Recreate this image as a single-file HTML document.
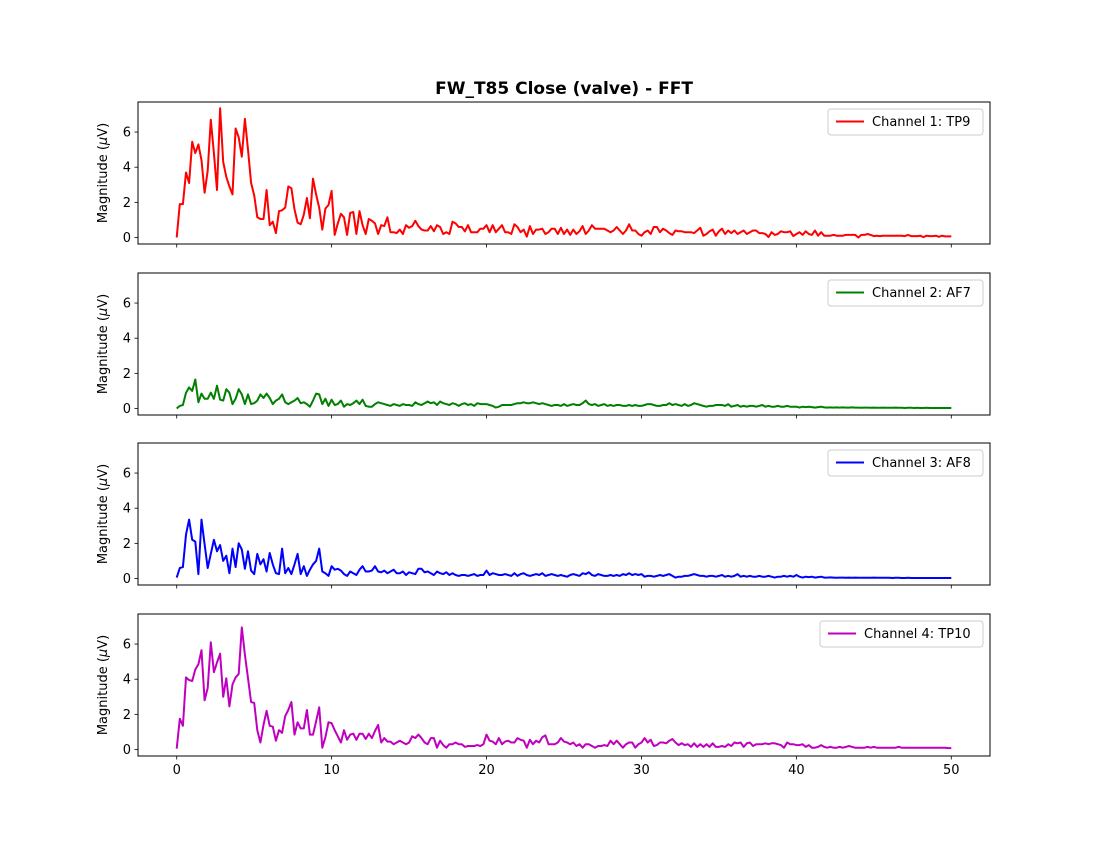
<!DOCTYPE html>
<html><head><meta charset="utf-8"><style>
body{margin:0;background:#fff;}
svg{display:block;font-family:"DejaVu Sans","Liberation Sans",sans-serif;}
</style></head><body>
<svg id="chart" width="1100" height="850" xmlns="http://www.w3.org/2000/svg">
<text x="564" y="94" text-anchor="middle" font-size="17" font-weight="bold">FW_T85 Close (valve) - FFT</text>
</svg>
<script>
const xTicks=[0,10,20,30,40,50];
const yTicks=[0,2,4,6];
const freqStep=0.2;
const labels=["Channel 1: TP9","Channel 2: AF7","Channel 3: AF8","Channel 4: TP10"];
const colors=["#ff0000","#008000","#0000ff","#bf00bf"];
const ch1=[0,1.9,1.9,3.7,3.1,5.45,4.8,5.3,4.4,2.55,3.8,6.7,4.8,2.7,7.35,4.3,3.45,2.9,2.45,6.2,5.7,4.6,6.75,5.0,3.1,2.4,1.15,1.05,1.05,2.7,0.7,0.9,0.25,1.5,1.55,1.7,2.9,2.8,1.6,0.85,0.75,1.3,2.25,1.1,3.35,2.45,1.7,0.45,1.65,1.85,2.65,0.15,0.8,1.35,1.15,0.15,1.4,1.45,0.2,1.5,0.7,0.2,1.05,
0.95,0.8,0.2,0.7,0.65,1.15,0.3,0.3,0.25,0.45,0.2,0.7,0.55,0.65,0.95,0.65,0.45,0.4,0.4,0.65,0.35,0.7,0.6,0.2,0.3,0.2,0.9,0.8,0.6,0.6,0.35,0.7,0.3,0.3,0.3,0.5,0.5,0.7,0.3,0.7,0.3,0.5,0.7,0.3,0.3,0.2,0.75,0.6,0.3,0.45,0.05,0.65,0.2,0.45,0.45,0.5,0.2,0.3,0.5,0.5,0.2,0.55,0.2,0.45,0.15,0.45,0.2,0.35,0.65,0.2,0.4,0.7,0.5,0.5,0.5,0.5,0.4,0.3,0.4,0.6,0.4,0.2,0.4,0.75,0.4,0.4,0.2,0.1,0.3,0.4,0.2,0.6,0.6,0.3,0.5,
0.4,0.25,0.15,0.4,0.35,0.35,0.3,0.3,0.3,0.25,0.4,0.55,0.1,0.2,0.35,0.45,0.1,0.35,0.5,0.2,0.4,0.25,0.4,0.2,0.3,0.4,0.2,0.3,0.4,0.4,0.25,0.25,0.2,0.02,0.3,0.15,0.2,0.35,0.3,0.3,0.35,0.08,0.2,0.3,0.15,0.35,0.2,0.15,0.4,0.1,0.3,0.1,0.1,0.1,0.15,0.1,0.1,0.1,0.15,0.15,0.15,0.15,0.0,0.15,0.15,0.2,0.15,0.08,0.1,0.08,0.1,0.1,0.1,0.1,0.1,0.1,0.1,0.08,0.15,0.08,0.08,0.08,0.1,0.02,0.1,0.08,0.08,0.1,0.04,0.1,0.06,0.06,0.06];
const ch2=[0,0.15,0.2,0.9,1.2,1.0,1.65,0.35,0.85,0.55,0.55,0.9,0.55,1.3,0.5,0.45,1.1,0.9,0.25,0.55,1.1,0.8,0.25,0.8,0.25,0.3,0.45,0.8,0.6,0.85,0.6,0.25,0.45,0.55,0.8,0.35,0.25,0.35,0.45,0.6,0.3,0.35,0.25,0.1,0.45,0.85,0.8,0.25,0.55,0.15,0.5,0.2,0.25,0.45,0.1,0.25,0.2,0.3,0.45,0.25,0.5,0.15,0.1,
0.1,0.25,0.35,0.3,0.25,0.2,0.15,0.25,0.2,0.15,0.25,0.2,0.2,0.15,0.35,0.25,0.2,0.3,0.4,0.3,0.35,0.2,0.4,0.3,0.25,0.2,0.3,0.25,0.15,0.25,0.3,0.2,0.25,0.15,0.3,0.25,0.25,
0.25,0.2,0.15,0.05,0.1,0.2,0.2,0.2,0.2,0.25,0.3,0.3,0.35,0.3,0.3,0.35,0.3,0.25,0.3,0.25,0.2,0.15,0.2,0.2,0.15,0.25,0.15,0.2,0.25,0.2,0.2,0.3,0.45,0.25,0.2,0.25,0.15,0.2,0.25,0.15,0.2,0.15,0.2,0.2,0.15,0.15,0.2,0.15,0.2,0.15,
0.15,0.2,0.25,0.25,0.2,0.15,0.15,0.2,0.2,0.3,0.2,0.25,0.2,0.15,0.25,0.15,0.2,0.3,0.25,0.2,0.15,0.1,0.15,0.15,0.2,0.2,0.2,0.15,0.25,0.1,0.15,0.2,0.1,0.15,0.1,0.15,0.15,0.1,0.15,0.2,0.1,0.15,0.1,0.1,0.15,0.1,0.1,0.15,0.1,0.1,
0.1,0.05,0.1,0.08,0.1,0.08,0.05,0.08,0.1,0.06,0.05,0.06,0.05,0.06,0.05,0.06,0.05,0.05,0.06,0.05,0.05,0.04,0.05,0.05,0.04,0.05,0.04,0.04,0.05,0.04,0.04,0.04,0.05,0.04,0.04,0.03,0.04,0.04,0.03,0.04,0.03,0.03,0.04,0.03,0.03,0.03,0.03,0.03,0.03,0.03,0.03];
const ch3=[0.05,0.6,0.65,2.5,3.35,2.2,2.1,0.25,3.35,1.95,0.6,1.4,2.2,1.55,1.9,1.0,1.3,0.3,1.7,0.65,2.0,1.65,0.55,1.55,0.45,0.25,1.4,0.8,1.1,0.4,1.45,0.8,0.3,0.25,1.7,0.3,0.6,0.25,0.8,1.4,0.25,0.7,0.15,0.5,0.8,1.0,1.7,0.4,0.3,0.15,0.7,0.5,0.55,0.45,0.25,0.15,0.4,0.3,0.2,0.5,0.7,0.4,0.4,
0.45,0.7,0.4,0.35,0.45,0.3,0.4,0.5,0.3,0.3,0.4,0.2,0.35,0.3,0.25,0.55,0.55,0.35,0.4,0.3,0.2,0.4,0.3,0.25,0.35,0.2,0.3,0.2,0.15,0.2,0.2,0.15,0.2,0.25,0.15,0.2,0.2,
0.45,0.2,0.3,0.25,0.2,0.2,0.25,0.2,0.15,0.3,0.15,0.25,0.3,0.2,0.15,0.2,0.25,0.2,0.3,0.15,0.2,0.25,0.2,0.15,0.2,0.15,0.1,0.2,0.25,0.2,0.15,0.3,0.25,0.35,0.2,0.15,0.25,0.2,0.15,0.15,0.2,0.15,0.2,0.15,0.25,0.2,0.3,0.2,0.25,0.2,
0.25,0.1,0.15,0.15,0.1,0.15,0.2,0.15,0.2,0.25,0.15,0.05,0.1,0.1,0.15,0.15,0.2,0.25,0.2,0.15,0.15,0.1,0.15,0.15,0.1,0.15,0.2,0.1,0.15,0.1,0.15,0.25,0.1,0.15,0.1,0.15,0.1,0.1,0.15,0.1,0.1,0.15,0.1,0.05,0.1,0.1,0.15,0.1,0.15,0.1,
0.2,0.1,0.05,0.1,0.08,0.1,0.05,0.08,0.1,0.05,0.05,0.06,0.05,0.04,0.05,0.05,0.04,0.05,0.04,0.05,0.04,0.04,0.04,0.04,0.04,0.05,0.04,0.04,0.04,0.04,0.04,0.03,0.04,0.04,0.03,0.03,0.04,0.03,0.03,0.03,0.03,0.03,0.03,0.03,0.03,0.03,0.03,0.03,0.03,0.03,0.03];
const ch4=[0.05,1.75,1.35,4.1,3.95,3.9,4.55,4.85,5.65,2.8,3.5,6.1,4.4,4.95,5.45,3.0,4.05,2.45,3.7,4.1,4.3,6.95,5.4,4.05,2.7,2.65,1.1,0.4,1.4,2.2,1.35,1.3,0.5,1.1,0.95,1.9,2.25,2.7,0.85,1.55,1.2,1.2,2.25,0.85,0.85,1.6,2.4,0.1,0.7,1.55,1.5,1.1,0.75,0.4,1.1,0.55,0.85,0.9,0.55,0.9,0.9,0.6,0.9,
0.65,1.05,1.4,0.4,0.65,0.45,0.45,0.3,0.4,0.5,0.4,0.3,0.4,0.75,0.65,0.85,0.65,0.4,0.3,0.65,0.65,0.1,0.5,0.25,0.1,0.3,0.3,0.4,0.3,0.3,0.15,0.2,0.2,0.2,0.25,0.2,0.3,0.85,0.5,0.45,0.3,0.65,0.3,0.45,0.5,0.4,0.4,0.65,0.55,0.5,0.1,0.55,0.3,0.5,0.4,0.7,0.8,0.3,0.3,0.3,0.4,0.65,0.45,0.4,0.3,0.4,0.2,0.3,0.1,0.3,0.3,0.2,0.1,0.2,0.2,0.25,0.2,0.5,0.3,0.5,0.3,0.1,0.3,0.4,0.4,0.1,0.3,0.4,0.65,0.4,0.55,0.2,0.25,0.4,0.4,
0.35,0.5,0.6,0.4,0.25,0.35,0.25,0.3,0.15,0.35,0.15,0.3,0.15,0.3,0.15,0.35,0.15,0.15,0.2,0.15,0.3,0.2,0.4,0.35,0.4,0.15,0.35,0.4,0.2,0.3,0.3,0.3,0.35,0.3,0.35,0.35,0.3,0.25,0.1,0.4,0.3,0.3,0.25,0.25,0.3,0.15,0.25,0.1,0.1,0.15,0.25,0.15,0.1,0.15,0.1,0.1,0.15,0.1,0.15,0.2,0.15,0.1,0.1,0.1,0.1,0.15,0.1,0.15,0.1,0.1,0.1,0.1,0.1,0.1,0.1,0.15,0.1,0.1,0.1,0.1,0.1,0.1,0.1,0.1,0.1,0.1,0.1,0.1,0.1,0.1,0.1,0.08,0.08];
const series=[ch1,ch2,ch3,ch4];

const NS="http://www.w3.org/2000/svg";
const svg=document.getElementById('chart');
const L=138,R=990,H=142,tops=[102,273,443,614];
const xMin=-2.5,xMax=52.5,yMin=-0.37,yMax=7.71;
function mk(t,a){const e=document.createElementNS(NS,t);for(const k in a)e.setAttribute(k,a[k]);return e;}
function xs(v){return L+(v-xMin)/(xMax-xMin)*(R-L);}
series.forEach((data,i)=>{
  const top=tops[i];
  const ys=v=>top+H-(v-yMin)/(yMax-yMin)*H;
  const g=mk('g',{});
  
  
  svg.appendChild(g);
  yTicks.forEach(t=>{
    const y=ys(t);
    g.appendChild(mk('line',{x1:L-3.5,x2:L,y1:y,y2:y,stroke:'#000','stroke-width':0.8}));
    const tx=mk('text',{x:L-7,y:y+4.5,'text-anchor':'end','font-size':13});
    tx.textContent=t;
    
    
    g.appendChild(tx);
  });
  xTicks.forEach(t=>{
    const x=xs(t);
    g.appendChild(mk('line',{x1:x,x2:x,y1:top+H,y2:top+H+3.5,stroke:'#000','stroke-width':0.8}));
    if(i===3){
      const tx=mk('text',{x:x,y:top+H+18,'text-anchor':'middle','font-size':13});
      tx.textContent=t;
      
      
      g.appendChild(tx);
    }
  });
  const yl=mk('text',{x:0,y:0,'text-anchor':'middle','font-size':13,transform:`translate(107,${top+H/2}) rotate(-90)`});
  yl.innerHTML='Magnitude (<tspan font-style="italic">μ</tspan>V)';
  
  
  g.appendChild(yl);
  const pts=data.map((v,j)=>xs(j*freqStep).toFixed(1)+','+ys(v).toFixed(1)).join(' ');
  const pl=mk('polyline',{points:pts,fill:'none',stroke:colors[i],'stroke-width':2,'stroke-linejoin':'round'});
  
  
  g.appendChild(pl);
  const fr=mk('rect',{x:L,y:top,width:R-L,height:H,fill:'none',stroke:'#000','stroke-width':1});
  
  
  g.appendChild(fr);
  const lw=i===3?163:155, lx=983-lw;
  const lg=mk('g',{});
  
  
  lg.appendChild(mk('rect',{x:lx,y:top+7,width:lw,height:26,rx:3,fill:'#fff','fill-opacity':0.8,stroke:'#ccc','stroke-width':1}));
  lg.appendChild(mk('line',{x1:lx+8,x2:lx+36,y1:top+19.5,y2:top+19.5,stroke:colors[i],'stroke-width':2}));
  const lt=mk('text',{x:lx+44,y:top+24,'font-size':13});
  lt.textContent=labels[i];
  
  
  lg.appendChild(lt);
  g.appendChild(lg);
});
</script>
</body></html>
